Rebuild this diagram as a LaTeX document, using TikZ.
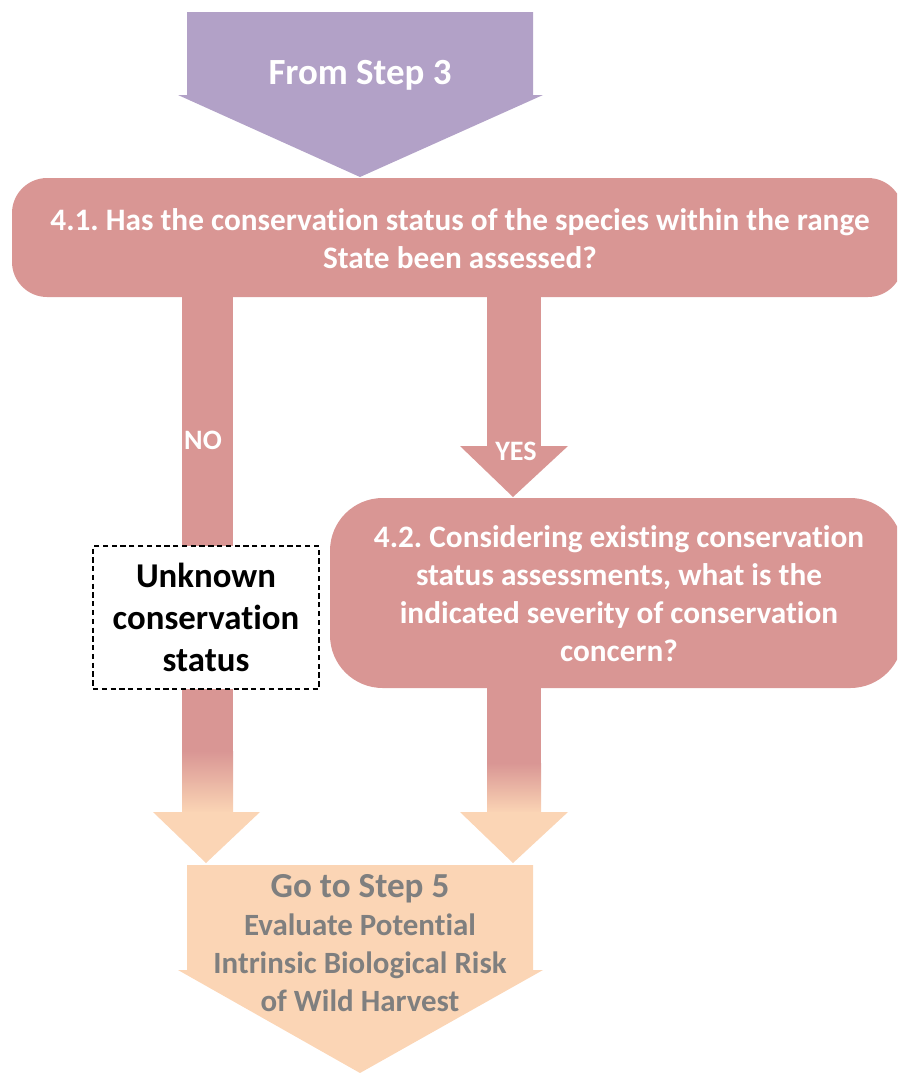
\documentclass[tikz,border=0pt]{standalone}
\usepackage{fontspec}
\setmainfont{Carlito}[Ligatures=NoCommon]
\usetikzlibrary{positioning}
\definecolor{stepviolet}{HTML}{B2A1C7}
\definecolor{askpink}{HTML}{D99694}
\definecolor{gopeach}{HTML}{FBD5B5}
\definecolor{gogray}{HTML}{7F7F7F}
\frenchspacing
\tikzset{
  asktext/.style={text=white,font=\bfseries\fontsize{17.8}{21.6}\selectfont,align=center},
  answer/.style={text=white,font=\bfseries\fontsize{16}{18}\selectfont},
  fadeshaft/.style={top color=askpink,bottom color=gopeach,draw=none}
}
\begin{document}
\begin{tikzpicture}
    [x=0.02cm,y=-0.02cm]
\useasboundingbox (0,0) rectangle (897,1073);
%from step 3
\fill[stepviolet] (187,12) -- (533,12) -- (533,95) -- (543,95) -- (360,177)
   -- (178,95) -- (187,95) -- cycle;
\node[text=white,font=\bfseries\fontsize{21}{25}\selectfont] (from3) at (360,75) {From Step 3};

%question boxes
\begin{scope}
 \clip (0,0) rectangle (897,1073);
 \fill[askpink,rounded corners=20] (12,178) rectangle (903,297);
 \fill[askpink,rounded corners=30] (330,498) rectangle (903,688);
\end{scope}
\node[asktext] (ask41) at (460,239) {4.1. Has the conservation status of the species within the range\\State been assessed?};

%NO branch
\fill[askpink] (182,297) rectangle (233,752);
\shade[fadeshaft] (182,751) rectangle (233,813);
\fill[gopeach] (153,812) -- (260,812) -- (206,863) -- cycle;
\node[answer] (no) at (203,440) {NO};
\node[draw,dashed,dash pattern=on 3pt off 2pt,line width=0.9pt,fill=white,
      minimum width=4.52cm,minimum height=2.86cm,align=center,
      font=\bfseries\fontsize{19.8}{24}\selectfont] (unknown) at (206,617.5)
      {Unknown\\conservation\\status};

%YES branch
\fill[askpink] (487,297) rectangle (541,447);
\fill[askpink] (460,446) -- (568,446) -- (513,497) -- cycle;
\node[answer] (yes) at (516,451) {YES};
\node[asktext] (ask42) at (619,593.5) {4.2. Considering existing conservation\\status assessments, what is the\\indicated severity of conservation\\concern?};
\fill[askpink] (487,688) rectangle (541,764);
\shade[fadeshaft] (487,763) rectangle (541,813);
\fill[gopeach] (460,812) -- (568,812) -- (513,863) -- cycle;

%go to step 5
\fill[gopeach] (187,865) -- (533,865) -- (533,970) -- (543,970) -- (360,1073)
   -- (178,970) -- (187,970) -- cycle;
\node[text=gogray,align=center,font=\bfseries\fontsize{17.6}{21.6}\selectfont] (go5) at (360,943)
   {{\fontsize{20}{21.6}\selectfont Go to Step 5}\\Evaluate Potential\\Intrinsic Biological Risk\\of Wild Harvest};
\end{tikzpicture}
\end{document}
